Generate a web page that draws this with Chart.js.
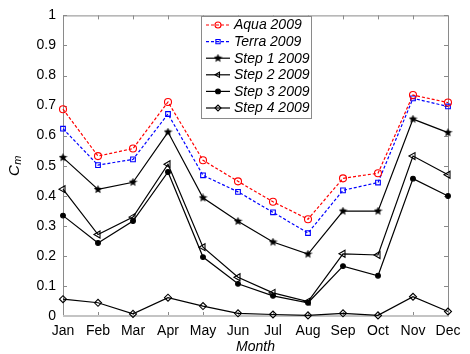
<!DOCTYPE html>
<html>
<head>
<meta charset="utf-8">
<script src="https://cdn.jsdelivr.net/npm/chart.js@4/dist/chart.umd.min.js"></script>
<style>
  html, body { margin: 0; padding: 0; background: #fff; }
  #wrap { width: 470px; height: 354px; }
</style>
</head>
<body>
<div id="wrap"><canvas id="c" width="470" height="354"></canvas></div>
<script>
// Monthly cloud-mask fraction for 2009
const months = ['Jan','Feb','Mar','Apr','May','Jun','Jul','Aug','Sep','Oct','Nov','Dec'];
const aqua2009  = [0.688, 0.532, 0.557, 0.712, 0.518, 0.448, 0.380, 0.322, 0.458, 0.475, 0.735, 0.710];
const terra2009 = [0.623, 0.502, 0.521, 0.672, 0.468, 0.413, 0.345, 0.276, 0.418, 0.444, 0.724, 0.697];
const step1     = [0.527, 0.421, 0.445, 0.612, 0.393, 0.315, 0.246, 0.206, 0.349, 0.349, 0.655, 0.610];
const step2     = [0.422, 0.271, 0.329, 0.505, 0.229, 0.129, 0.077, 0.048, 0.207, 0.203, 0.532, 0.470];
const step3     = [0.334, 0.243, 0.316, 0.479, 0.196, 0.107, 0.067, 0.044, 0.166, 0.134, 0.457, 0.399];
const step4     = [0.056, 0.044, 0.007, 0.061, 0.033, 0.009, 0.005, 0.002, 0.009, 0.002, 0.064, 0.015];
const yTicks    = [0, 0.1, 0.2, 0.3, 0.4, 0.5, 0.6, 0.7, 0.8, 0.9, 1];

const FONT = '"Liberation Sans", Arial, sans-serif';
const AXIS_GREY = '#8a8a8a';

// small filled five-point star used as a point marker
function makeStar(size) {
  const cv = document.createElement('canvas');
  cv.width = size; cv.height = size;
  const c = cv.getContext('2d');
  const cx = size / 2, cy = size / 2, R = size / 2, r = R * 0.45;
  c.beginPath();
  for (let k = 0; k < 10; k++) {
    const ang = -Math.PI / 2 + k * Math.PI / 5;
    const rr = k % 2 ? r : R;
    c.lineTo(cx + rr * Math.cos(ang), cy + rr * Math.sin(ang));
  }
  c.closePath();
  c.fillStyle = '#000';
  c.fill();
  return cv;
}
const starMarker = makeStar(9);

function series(label, data, color, style, extra) {
  return Object.assign({
    label, data,
    borderColor: color,
    backgroundColor: 'rgba(0,0,0,0)',
    pointBorderColor: color,
    pointBackgroundColor: 'rgba(0,0,0,0)',
    borderWidth: 1.2,
    pointBorderWidth: 1.1,
    pointRadius: 3.5,
    pointStyle: style,
    tension: 0,
    clip: false
  }, extra || {});
}

const datasets = [
  series('Aqua 2009',   aqua2009,  '#ff0000', 'circle', { borderDash: [3, 2] }),
  series('Terra 2009',  terra2009, '#0000ff', 'rect',   { borderDash: [3, 2], pointRadius: 3.3 }),
  series('Step 1 2009', step1,     '#000000', starMarker, { pointRadius: 4.5 }),
  series('Step 2 2009', step2,     '#000000', 'triangle', { pointRotation: -90, pointRadius: 4 }),
  series('Step 3 2009', step3,     '#000000', 'circle', { pointRadius: 2.4, pointBackgroundColor: '#000' }),
  series('Step 4 2009', step4,     '#000000', 'rectRot', { pointRadius: 3.5 })
];

// Frame, inward ticks, legend box and axis titles
const framePlugin = {
  id: 'frame',
  beforeDatasetsDraw(chart) {
    const { ctx, chartArea: a, scales: { x, y } } = chart;
    ctx.save();
    ctx.lineWidth = 1;
    ctx.strokeStyle = AXIS_GREY;
    ctx.beginPath();
    ctx.moveTo(a.left + 0.5, a.bottom);
    ctx.lineTo(a.left + 0.5, a.top + 0.5);
    ctx.lineTo(a.right + 0.5, a.top + 0.5);
    ctx.lineTo(a.right + 0.5, a.bottom);
    ctx.stroke();
    // ticks pointing inwards
    const T = 4;
    ctx.beginPath();
    x.ticks.forEach((t, i) => {
      const px = Math.round(x.getPixelForTick(i)) + 0.5;
      ctx.moveTo(px, a.bottom); ctx.lineTo(px, a.bottom - T);
      ctx.moveTo(px, a.top);    ctx.lineTo(px, a.top + T);
    });
    y.ticks.forEach((t, i) => {
      const py = Math.round(y.getPixelForTick(i)) + 0.5;
      ctx.moveTo(a.left, py);  ctx.lineTo(a.left + T, py);
      ctx.moveTo(a.right, py); ctx.lineTo(a.right - T, py);
    });
    ctx.stroke();
    // bottom axis
    ctx.strokeStyle = '#c4c4c4';
    ctx.lineWidth = 2;
    ctx.beginPath();
    ctx.moveTo(a.left, a.bottom);
    ctx.lineTo(a.right + 1, a.bottom);
    ctx.stroke();
    ctx.restore();
  },
  afterDraw(chart) {
    const { ctx, chartArea: a } = chart;
    ctx.save();
    // legend
    const lx = 201, ly = 16, lw = 110, lh = 102;
    ctx.fillStyle = '#fff';
    ctx.fillRect(lx, ly, lw, lh);
    ctx.strokeStyle = AXIS_GREY;
    ctx.lineWidth = 1;
    ctx.strokeRect(lx + 0.5, ly + 0.5, lw, lh);
    chart.data.datasets.forEach((ds, i) => {
      const ry = 25 + i * 16.6;
      ctx.save();
      ctx.strokeStyle = ds.borderColor;
      ctx.lineWidth = ds.borderWidth;
      ctx.setLineDash(ds.borderDash || []);
      ctx.beginPath();
      ctx.moveTo(206, ry); ctx.lineTo(230, ry);
      ctx.stroke();
      ctx.setLineDash([]);
      ctx.fillStyle = ds.pointBackgroundColor;
      ctx.strokeStyle = ds.pointBorderColor;
      ctx.lineWidth = ds.pointBorderWidth;
      Chart.helpers.drawPoint(ctx, {
        pointStyle: ds.pointStyle,
        rotation: ds.pointRotation || 0,
        radius: Math.min(ds.pointRadius, 3),
        borderWidth: ds.pointBorderWidth
      }, 218, ry);
      ctx.restore();
      ctx.fillStyle = '#000';
      ctx.font = 'italic 14px ' + FONT;
      ctx.textBaseline = 'middle';
      ctx.textAlign = 'left';
      ctx.fillText(ds.label, 234, ry + 0.5);
    });
    // x title
    ctx.fillStyle = '#000';
    ctx.font = 'italic 14px ' + FONT;
    ctx.textAlign = 'center';
    ctx.textBaseline = 'alphabetic';
    ctx.fillText('Month', (a.left + a.right) / 2, 351);
    // y title C_m
    ctx.translate(18.5, 166);
    ctx.rotate(-Math.PI / 2);
    ctx.font = 'italic 15px ' + FONT;
    const wC = ctx.measureText('C').width;
    ctx.font = 'italic 11px ' + FONT;
    const wm = ctx.measureText('m').width;
    const x0 = -(wC + wm) / 2;
    ctx.textAlign = 'left';
    ctx.font = 'italic 15px ' + FONT;
    ctx.fillText('C', x0, 0);
    ctx.font = 'italic 11px ' + FONT;
    ctx.fillText('m', x0 + wC + 0.5, 2);
    ctx.restore();
  }
};

new Chart(document.getElementById('c'), {
  type: 'line',
  data: { labels: months, datasets },
  options: {
    responsive: false,
    animation: false,
    devicePixelRatio: 1,
    layout: { padding: { left: 0, right: 22, top: 12, bottom: 0 } },
    plugins: { legend: { display: false }, tooltip: { enabled: false } },
    scales: {
      x: {
        type: 'category',
        offset: false,
        grid: { display: false, drawTicks: false },
        border: { display: false },
        ticks: { color: '#000', font: { family: FONT, size: 14 }, padding: 7, autoSkip: false, maxRotation: 0 },
        afterFit(s) { s.height = 38; }
      },
      y: {
        min: 0, max: 1,
        afterBuildTicks(s) { s.ticks = yTicks.map(v => ({ value: v })); },
        grid: { display: false, drawTicks: false },
        border: { display: false },
        ticks: {
          color: '#000', font: { family: FONT, size: 14 }, padding: 7,
          callback: v => String(+v.toFixed(1))
        },
        afterFit(s) { s.width = 63; }
      }
    }
  },
  plugins: [framePlugin]
});
</script>
</body>
</html>
